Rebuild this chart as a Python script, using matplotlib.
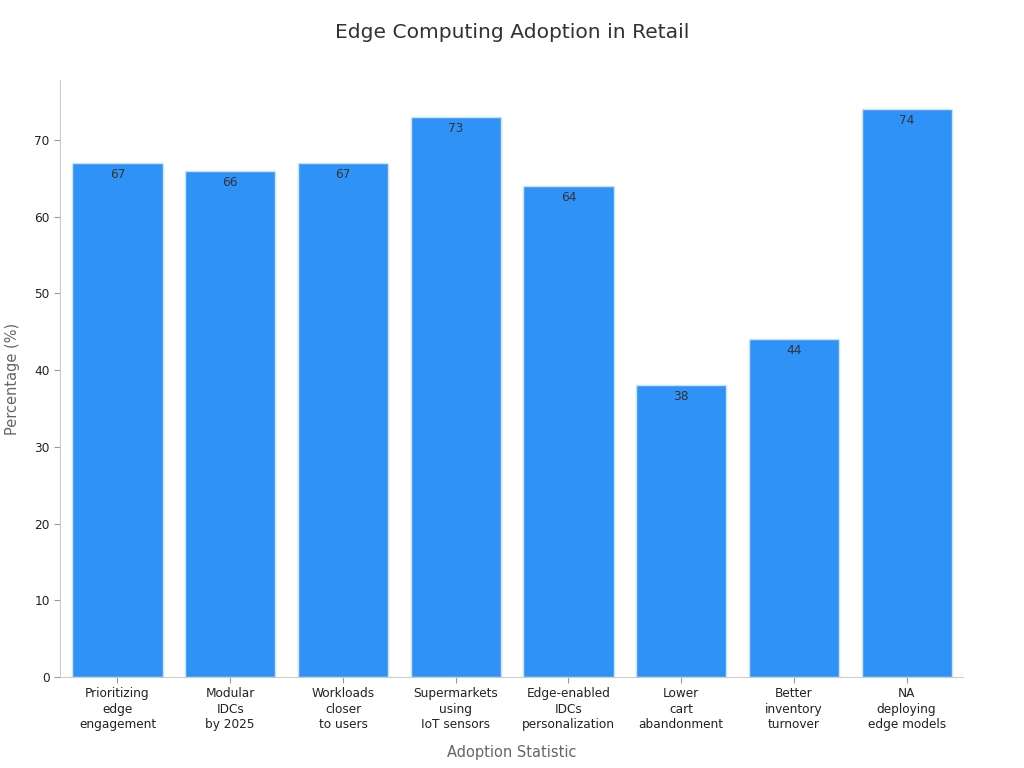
import matplotlib
matplotlib.use("Agg")
import matplotlib.pyplot as plt

categories = ["Prioritizing\nedge\nengagement", "Modular\nIDCs\nby 2025", "Workloads\ncloser\nto users",
              "Supermarkets\nusing\nIoT sensors", "Edge-enabled\nIDCs\npersonalization", "Lower\ncart\nabandonment",
              "Better\ninventory\nturnover", "NA\ndeploying\nedge models"]
values = [67, 66, 67, 73, 64, 38, 44, 74]

fig = plt.figure(figsize=(10.24, 7.68), dpi=100)
ax = fig.add_axes([60/1024, 1-677/768, (963-60)/1024, (677-80)/768])
x = range(len(values))
bars = ax.bar(x, values, width=0.8, color="#2f92f7", edgecolor="#cfe4fb", linewidth=1)
for xi, v in zip(x, values):
    ax.text(xi, v - 0.65, f"{v}", ha="center", va="top", fontsize=8.7, color="#333333")
ax.set_xlim(-0.51, 7.5)
ax.set_ylim(0, 77.8)
ax.set_xticks(list(x))
ax.set_xticklabels(categories, fontsize=8.7, color="#222222", linespacing=1.25)
ax.set_yticks(range(0, 80, 10))
ax.tick_params(axis="y", labelsize=8.7, colors="#222222", length=4, color="#999999")
ax.tick_params(axis="x", length=4, color="#999999")
for s in ["top", "right"]:
    ax.spines[s].set_visible(False)
for s in ["left", "bottom"]:
    ax.spines[s].set_color("#cccccc")
ax.set_xlabel("Adoption Statistic", fontsize=10.5, color="#666666", labelpad=10)
ax.set_ylabel("Percentage (%)", fontsize=10.5, color="#666666", labelpad=10)
fig.text(0.5, 1-33/768, "Edge Computing Adoption in Retail", ha="center", va="center", fontsize=14.6, color="#333333")
fig.savefig("out.png", dpi=100)
